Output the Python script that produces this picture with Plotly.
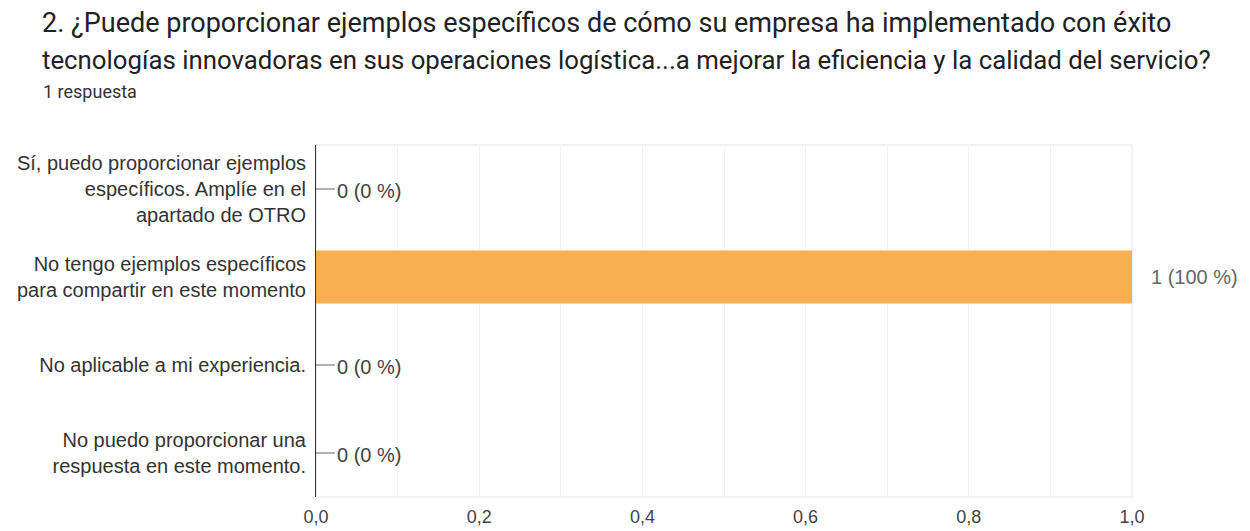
import plotly.graph_objects as go

categories = [
    "Sí, puedo proporcionar ejemplos<br>específicos. Amplíe en el<br>apartado de OTRO",
    "No tengo ejemplos específicos<br>para compartir en este momento",
    "No aplicable a mi experiencia.",
    "No puedo proporcionar una<br>respuesta en este momento.",
]
counts = [0, 1, 0, 0]
percents = [0, 100, 0, 0]
x_ticks = [0.0, 0.2, 0.4, 0.6, 0.8, 1.0]

title_line1 = "2. ¿Puede proporcionar ejemplos específicos de cómo su empresa ha implementado con éxito"
title_line2 = "tecnologías innovadoras en sus operaciones logística...a mejorar la eficiencia y la calidad del servicio?"
subtitle = "1 respuesta"

BAR_COLOR = "#F7AF4F"
FONT = "Liberation Sans, Arial, sans-serif"
TFONT = "Roboto, sans-serif"

L, R, T, B = 316, 118, 145, 34
PW, PH = 1250 - L - R, 531 - T - B

fig = go.Figure()
fig.add_trace(go.Bar(
    x=counts, y=categories, orientation="h",
    marker=dict(color=BAR_COLOR, line=dict(width=0)),
    width=0.6, hoverinfo="skip",
))

annotations = []
shapes = [dict(type="rect", xref="paper", yref="paper", x0=0, x1=1, y0=0, y1=1,
               line=dict(color="#E6E6E6", width=1), layer="below")]
for cat, c, p in zip(categories, counts, percents):
    label = f"{c} ({p} %)"
    if c == 0:
        shapes.append(dict(type="line", xref="x", yref="y", x0=0, x1=0.023,
                           y0=cat, y1=cat, line=dict(color="#666666", width=1)))
        annotations.append(dict(x=0.023, y=cat, xref="x", yref="y", text=label,
                                showarrow=False, xanchor="left", xshift=0, yshift=-2,
                                font=dict(family=FONT, size=20, color="#444444")))
    else:
        annotations.append(dict(x=c, y=cat, xref="x", yref="y", text=label,
                                showarrow=False, xanchor="left", xshift=17,
                                font=dict(family=FONT, size=20, color="#666666")))

def px_x(px):
    return (px - L) / PW

def px_y(py):
    return 1 - (py - T) / PH

annotations += [
    dict(xref="paper", yref="paper", x=px_x(40), y=px_y(23), text=title_line1,
         showarrow=False, xanchor="left", yanchor="middle",
         font=dict(family=TFONT, size=27, color="#202124")),
    dict(xref="paper", yref="paper", x=px_x(40), y=px_y(60), text=title_line2,
         showarrow=False, xanchor="left", yanchor="middle",
         font=dict(family=TFONT, size=25.8, color="#202124")),
    dict(xref="paper", yref="paper", x=px_x(41), y=px_y(92), text=subtitle,
         showarrow=False, xanchor="left", yanchor="middle",
         font=dict(family=TFONT, size=18, color="#333333")),
]

fig.update_layout(
    width=1250, height=531,
    margin=dict(l=L, r=R, t=T, b=B, autoexpand=False),
    paper_bgcolor="white", plot_bgcolor="white",
    showlegend=False,
    separators=",.",
    annotations=annotations,
    shapes=shapes,
)
fig.update_xaxes(
    range=[0, 1], tickvals=x_ticks, tickformat=".1f",
    showgrid=True, gridcolor="#F3F3F3", gridwidth=1,
    minor=dict(dtick=0.1, showgrid=True, gridcolor="#F3F3F3"),
    zeroline=False, showline=False, ticks="",
    ticklabelstandoff=7,
    tickfont=dict(family=FONT, size=18, color="#444444"),
)
fig.update_yaxes(
    autorange="reversed", showgrid=False, zeroline=False,
    showline=True, linecolor="#333333", linewidth=1, ticks="",
    ticklabelstandoff=5,
    tickfont=dict(family=FONT, size=20, color="#333333"),
)

fig.write_html("out.html", config={"displayModeBar": False},
               post_script="document.body.style.margin='0';document.body.style.overflow='hidden';")
